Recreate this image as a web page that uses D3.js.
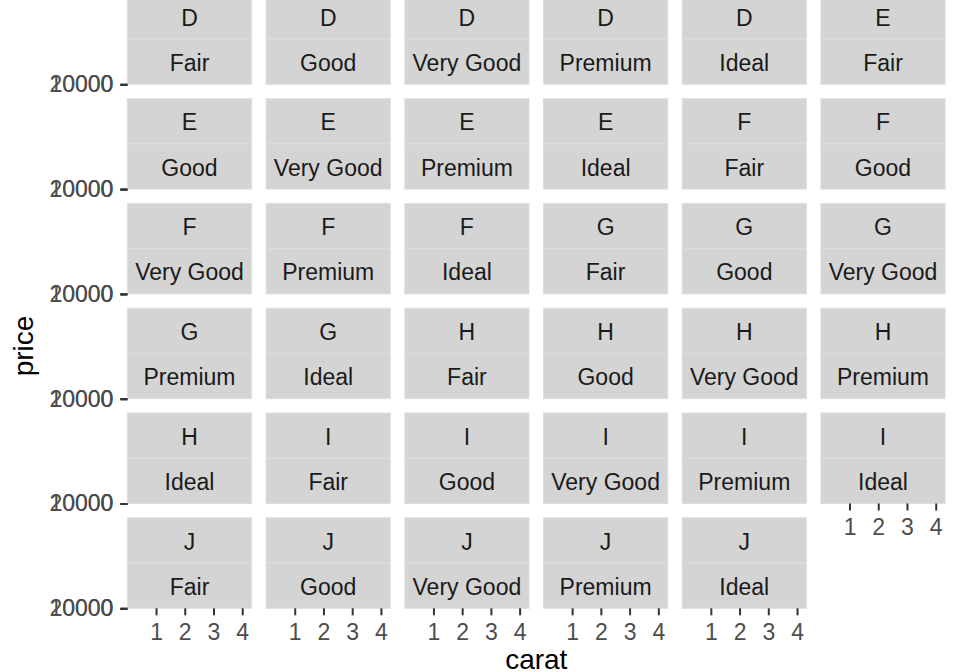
<!DOCTYPE html>
<html>
<head>
<meta charset="utf-8">
<script src="https://cdn.jsdelivr.net/npm/d3@7"></script>
<style>
  html, body { margin: 0; padding: 0; background: #ffffff; }
  svg { display: block; font-family: "Liberation Sans", Arial, Helvetica, sans-serif; }
</style>
</head>
<body>
<svg id="chart" width="960" height="672"></svg>
<script>
// ---- data ----
const colors = ["D", "E", "F", "G", "H", "I", "J"];
const cuts = ["Fair", "Good", "Very Good", "Premium", "Ideal"];
const caratRange = [0.2, 4.13];
const xTicks = [1, 2, 3, 4];
const yTicks = [0, 10000, 20000];
const priceRange = [326, 18823];

// ---- layout ----
const W = 960, H = 672;
const nCol = 6;
const panelLeft = 127.4, panelW = 124.2, gapX = 14.5;
const row0Bottom = 84.3, rowPitch = 104.8, stripH = 45.25;
const tickLen = 7;
const fs = 23;

const facets = [];
colors.forEach(c => cuts.forEach(k => facets.push({ color: c, cut: k })));

const svg = d3.select("#chart");

// ggplot-style 5% expansion on x
const span = caratRange[1] - caratRange[0];
const xDomain = [caratRange[0] - 0.05 * span, caratRange[1] + 0.05 * span];

facets.forEach((f, i) => {
  const col = i % nCol, row = Math.floor(i / nCol);
  const x0 = panelLeft + col * (panelW + gapX);
  const bottom = row0Bottom + row * rowPitch;
  const g = svg.append("g");

  const x = d3.scaleLinear().domain(xDomain).range([x0, x0 + panelW]);
  const y = d3.scaleLinear().domain([0, 20000]).range([bottom, bottom]);

  // strips
  const labels = [f.color, f.cut];
  labels.forEach((lab, j) => {
    const top = bottom - 2 * stripH + j * stripH;
    g.append("rect")
      .attr("x", x0).attr("y", top)
      .attr("width", panelW).attr("height", stripH)
      .attr("fill", "#d4d4d4")
      .attr("stroke", "#dedede").attr("stroke-width", 1);
    g.append("text")
      .attr("x", x0 + panelW / 2).attr("y", top + stripH / 2)
      .attr("dy", "0.4em")
      .attr("text-anchor", "middle")
      .attr("fill", "#1a1a1a")
      .attr("font-size", fs)
      .text(lab);
  });

  // y axis on first column
  if (col === 0) {
    const ya = g.append("g").attr("transform", `translate(${x0},0)`)
      .call(d3.axisLeft(y).tickValues(yTicks).tickSize(tickLen).tickPadding(7).tickFormat(d3.format("d")));
    ya.select(".domain").remove();
    ya.selectAll("line").attr("stroke", "#333333").attr("stroke-width", 2);
    ya.selectAll("text").attr("fill", "#4d4d4d").attr("font-size", fs)
      .attr("font-family", "Liberation Sans, Arial, sans-serif");
  }

  // x axis where there is no panel below
  if (i + nCol >= facets.length) {
    const xa = g.append("g").attr("transform", `translate(0,${bottom})`)
      .call(d3.axisBottom(x).tickValues(xTicks).tickSize(tickLen).tickPadding(8).tickFormat(d3.format("d")));
    xa.select(".domain").remove();
    xa.selectAll("line").attr("stroke", "#333333").attr("stroke-width", 2);
    xa.selectAll("text").attr("fill", "#4d4d4d").attr("font-size", fs)
      .attr("font-family", "Liberation Sans, Arial, sans-serif");
  }
});

// axis titles
const plotRight = panelLeft + nCol * panelW + (nCol - 1) * gapX;
svg.append("text")
  .attr("x", (panelLeft + plotRight) / 2).attr("y", 669)
  .attr("text-anchor", "middle").attr("font-size", 28).attr("fill", "#000")
  .text("carat");
svg.append("text")
  .attr("transform", "translate(33,346) rotate(-90)")
  .attr("text-anchor", "middle").attr("font-size", 28).attr("fill", "#000")
  .text("price");
</script>
</body>
</html>
